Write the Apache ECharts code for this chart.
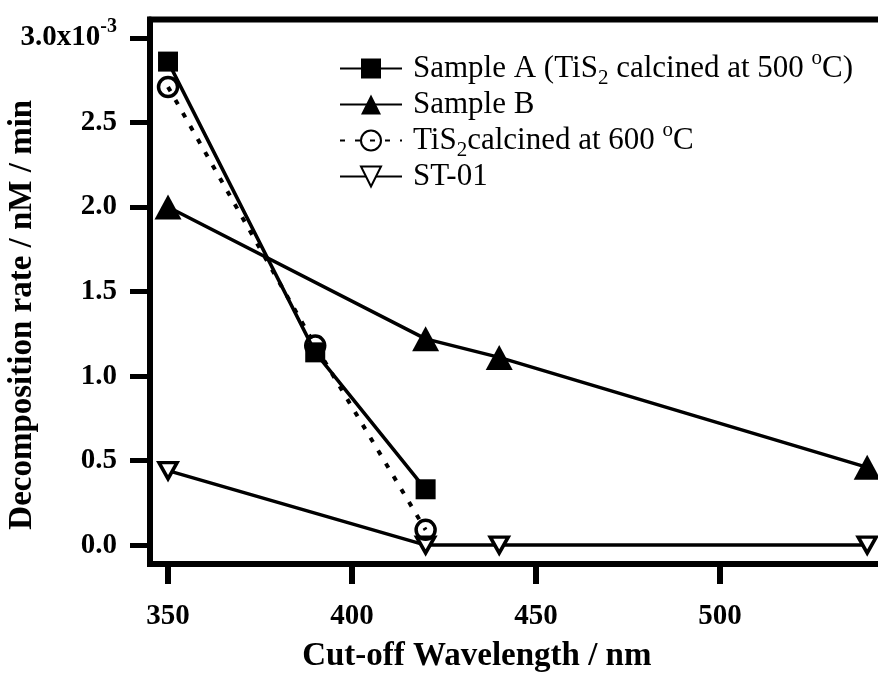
<!DOCTYPE html>
<html>
<head>
<meta charset="utf-8">
<script src="https://cdn.jsdelivr.net/npm/echarts@6/dist/echarts.min.js"></script>
<style>html,body{margin:0;padding:0;background:#fff}#c{width:878px;height:680px}</style>
</head>
<body>
<div id="c"></div>
<script>
// ---- data ----
const seriesNames = ['Sample A (TiS{sub|2} calcined at 500 {sup|o}C)', 'Sample B', 'TiS{sub|2}calcined at 600 {sup|o}C', 'ST-01'];
const wavelengthsA = [350, 390, 420];
const rateA = [2.86, 1.14, 0.33];
const wavelengthsB = [350, 420, 440, 540];
const rateB = [2.00, 1.22, 1.11, 0.46];
const wavelengthsC = [350, 390, 420];
const rateC = [2.71, 1.18, 0.09];
const wavelengthsST = [350, 420, 440, 540];
const rateST = [0.44, 0.0, 0.0, 0.0];
const xTickValues = [350, 400, 450, 500];
const yTickValues = [0, 0.5, 1.0, 1.5, 2.0, 2.5, 3.0];
const yTickLabels = ['0.0', '0.5', '1.0', '1.5', '2.0', '2.5', '3.0x10{sup|-3}'];

const pairs = (xs, ys) => xs.map((x, i) => [x, ys[i]]);
const FONT = '"Liberation Serif", "Times New Roman", serif';

const chart = echarts.init(document.getElementById('c'), null, {renderer: 'canvas'});
chart.setOption({
  animation: false,
  backgroundColor: '#fff',
  grid: {
    left: 150, top: 19.5, right: -7.6, bottom: 116,
    show: true, borderColor: '#000', borderWidth: 6,
    outerBoundsMode: 'none', containLabel: false
  },
  xAxis: {
    type: 'value', min: 345.1, max: 545,
    name: 'Cut-off Wavelength / nm', nameLocation: 'middle', nameGap: 76, nameMoveOverlap: false,
    nameTextStyle: {fontFamily: FONT, fontWeight: 'bold', fontSize: 33, color: '#000', padding: [0, 82, 0, 0]},
    axisLine: {show: true, onZero: false, lineStyle: {color: '#000', width: 6}},
    axisTick: {show: true, inside: false, length: 20, lineStyle: {color: '#000', width: 6}, customValues: xTickValues},
    axisLabel: {fontFamily: FONT, fontWeight: 'bold', fontSize: 29, color: '#000', margin: 38, customValues: xTickValues},
    splitLine: {show: false}
  },
  yAxis: {
    type: 'value', min: -0.112, max: 3.109,
    name: 'Decomposition rate / nM / min', nameLocation: 'middle', nameGap: 111, nameMoveOverlap: false,
    nameTextStyle: {fontFamily: FONT, fontWeight: 'bold', fontSize: 33, color: '#000', padding: [0, 46, 0, 0]},
    axisLine: {show: true, onZero: false, lineStyle: {color: '#000', width: 6}},
    axisTick: {show: true, inside: false, length: 20, lineStyle: {color: '#000', width: 5}, customValues: yTickValues},
    axisLabel: {
      fontFamily: FONT, fontWeight: 'bold', fontSize: 29, color: '#000', margin: 33,
      customValues: yTickValues,
      formatter: function (v) {
        const i = yTickValues.findIndex(t => Math.abs(t - v) < 1e-6);
        return i >= 0 ? yTickLabels[i] : '';
      },
      rich: {
        sup: {fontFamily: FONT, fontWeight: 'bold', fontSize: 20, color: '#000', lineHeight: 20, padding: [0, 0, 22, 0]}
      }
    },
    splitLine: {show: false}
  },
  legend: {
    orient: 'vertical', left: 339, top: 48, padding: 0,
    itemWidth: 62, itemHeight: 25, itemGap: 0,
    data: seriesNames,
    textStyle: {
      fontFamily: FONT, fontSize: 31, color: '#000', lineHeight: 31, padding: [0, 0, 0, 6],
      rich: {
        sub: {fontFamily: FONT, fontSize: 21, color: '#000', lineHeight: 21, padding: [20, 0, 0, 0]},
        sup: {fontFamily: FONT, fontSize: 21, color: '#000', lineHeight: 21, padding: [0, 0, 20, 0]}
      }
    }
  },
  series: [
    {
      name: seriesNames[0], type: 'line', data: pairs(wavelengthsA, rateA),
      symbol: 'rect', symbolSize: 20,
      lineStyle: {color: '#000', width: 3.5},
      itemStyle: {color: '#000'}, z: 3
    },
    {
      name: seriesNames[1], type: 'line', data: pairs(wavelengthsB, rateB),
      symbol: 'triangle', symbolSize: [27, 25],
      lineStyle: {color: '#000', width: 3.5},
      itemStyle: {color: '#000'}, z: 3
    },
    {
      name: seriesNames[2], type: 'line', data: pairs(wavelengthsC, rateC),
      symbol: 'circle', symbolSize: 19,
      lineStyle: {color: '#000', width: 4, type: [5, 10]},
      itemStyle: {color: 'rgba(255,255,255,0)', borderColor: '#000', borderWidth: 3.5}, z: 4
    },
    {
      name: seriesNames[3], type: 'line', data: pairs(wavelengthsST, rateST),
      symbol: 'triangle', symbolRotate: 180, symbolSize: [18, 16],
      lineStyle: {color: '#000', width: 3.5},
      itemStyle: {color: '#fff', borderColor: '#000', borderWidth: 3.5}, z: 3
    }
  ]
});
</script>
</body>
</html>
